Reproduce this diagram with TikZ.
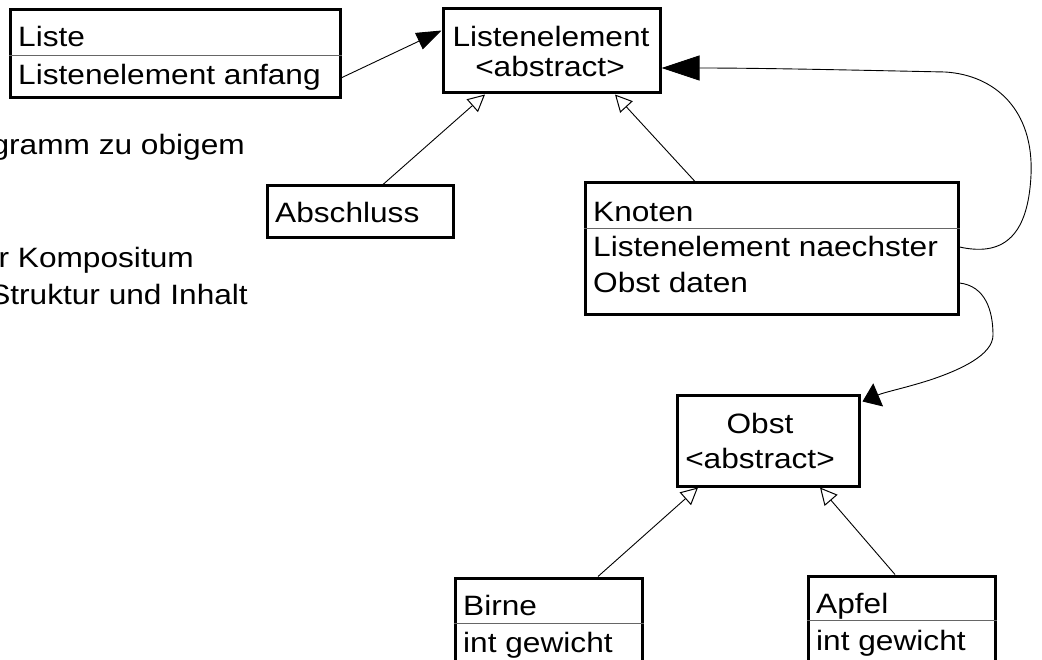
\documentclass[tikz,border=0pt]{standalone}
\usepackage{fontspec}
\setmainfont{Liberation Sans}[FakeStretch=1.13]
\usetikzlibrary{arrows.meta}

\begin{document}
\begin{tikzpicture}[x=1pt,y=-1pt,
  every node/.style={font=\fontsize{28}{30}\selectfont},
  box/.style={draw=black,line width=3pt,fill=white,inner sep=0pt},
  txt/.style={inner sep=0pt,anchor=base west},
  ctxt/.style={inner sep=0pt,anchor=base},
  divider/.style={draw=black!60,line width=1pt},
  link/.style={line width=0.9pt},
  inherit/.style={line width=0.9pt,-{Triangle[open,length=17pt,width=17pt,line width=1pt]}},
  assoc/.style={line width=0.9pt},
]
\useasboundingbox (0,0) rectangle (1042,660);

% class boxes
\node[box,minimum width=330pt,minimum height=88pt] (liste) at (175,54) {};
\node[box,minimum width=217pt,minimum height=84pt] (le) at (551.5,51) {};
\node[box,minimum width=186pt,minimum height=52pt] (absch) at (360,212) {};
\node[box,minimum width=373pt,minimum height=132pt] (knoten) at (771.5,249) {};
\node[box,minimum width=182pt,minimum height=90pt] (obst) at (768,441) {};
\node[box,minimum width=187pt,minimum height=122pt] (birne) at (548.5,639) {};
\node[box,minimum width=187pt,minimum height=124pt] (apfel) at (901.5,638) {};

% compartment separators
\draw[divider] (liste.west |- 0,56) -- (liste.east |- 0,56);
\draw[divider] (knoten.west |- 0,229) -- (knoten.east |- 0,229);
\draw[divider] (birne.west |- 0,623) -- (birne.east |- 0,623);
\draw[divider] (apfel.west |- 0,620) -- (apfel.east |- 0,620);

% class texts
\node[txt] (liste1) at (18,47) {Liste};
\node[txt] (liste2) at (18,85) {Listenelement anfang};
\node[ctxt] (le1) at (551,47) {Listenelement};
\node[ctxt] (le2) at (550,77) {<abstract>};
\node[txt] (absch1) at (275,223) {Abschluss};
\node[txt] (kn1) at (593,222) {Knoten};
\node[txt] (kn2) at (593,257) {Listenelement naechster};
\node[txt] (kn3) at (593,293) {Obst daten};
\node[ctxt] (obst1) at (760,433) {Obst};
\node[ctxt] (obst2) at (760,468) {<abstract>};
\node[txt] (birne1) at (463,615) {Birne};
\node[txt] (birne2) at (463,652) {int gewicht};
\node[txt] (apfel1) at (816,613) {Apfel};
\node[txt] (apfel2) at (816,650) {int gewicht};

% running text at the left edge
\node[inner sep=0pt,anchor=base east] (note1) at (245,155) {gramm zu obigem};
\node[inner sep=0pt,anchor=base east] (note2) at (194,268) {r Kompositum};
\node[inner sep=0pt,anchor=base east] (note3) at (248,305) {Struktur und Inhalt};

% associations
\draw[assoc,-{Triangle[length=25pt,width=18pt]}]
  (liste.east |- liste2.center) -- ([yshift=-23pt]le.north west);
\draw[assoc,-{Triangle[length=38pt,width=25pt]}]
  (knoten.east |- kn2.center)
  .. controls (1000,256) and (1028,240) .. (1031,175)
  .. controls (1034,110) and (995,75) .. (945,72)
  .. controls (850,70) and (760,68) .. ([yshift=-17pt]le.east);
\draw[assoc,-{Triangle[length=17pt,width=25pt]}]
  (knoten.east |- kn3.center)
  .. controls (985,286) and (993,310) .. (993,335)
  .. controls (993,355) and (960,370) .. (930,380)
  .. controls (905,388) and (885,392) .. ([xshift=2pt,yshift=-7pt]obst.north east);

% generalizations
\draw[inherit] ([xshift=23pt]absch.north) -- ([xshift=-66.5pt]le.south);
\draw[inherit] ([xshift=-76.5pt]knoten.north) -- ([xshift=63.5pt]le.south);
\draw[inherit] ([xshift=49.5pt]birne.north) -- ([xshift=-70pt]obst.south);
\draw[inherit] ([xshift=-6.5pt]apfel.north) -- ([xshift=52pt]obst.south);
\end{tikzpicture}
\end{document}
